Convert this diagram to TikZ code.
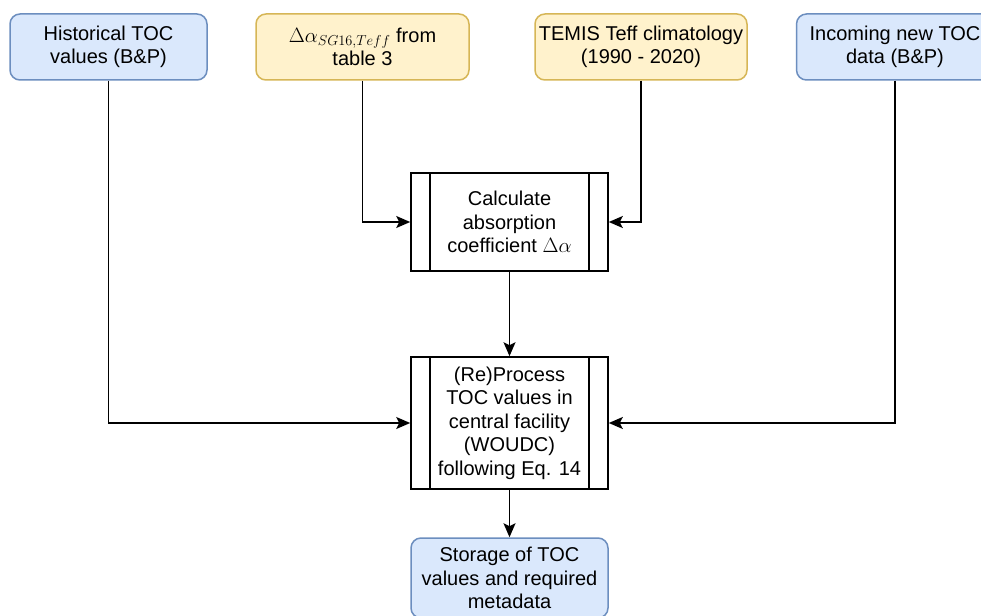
\documentclass[tikz,border=0pt]{standalone}
\usepackage{fontspec}
\setmainfont{Liberation Sans}
\usetikzlibrary{arrows.meta}

\definecolor{bluefill}{HTML}{DAE8FC}
\definecolor{blueline}{HTML}{6C8EBF}
\definecolor{yellowfill}{HTML}{FFF2CC}
\definecolor{yellowline}{HTML}{D6B656}

\tikzset{
    databox/.style={draw=blueline, fill=bluefill, rounded corners=10pt, line width=1.5pt,
        minimum width=197pt, minimum height=66pt, align=center, inner sep=0pt},
    inputbox/.style={draw=yellowline, fill=yellowfill, rounded corners=10pt, line width=1.5pt,
        minimum width=213pt, minimum height=66pt, align=center, inner sep=0pt},
    procbox/.style={draw, fill=white, line width=1.6pt, minimum width=197pt,
        align=center, inner sep=0pt},
    flow/.style={-{Stealth[length=14pt,width=12pt,inset=3pt]}, line width=1.6pt}
}

\begin{document}
\begin{tikzpicture}[x=1pt, y=-1pt, font=\fontsize{20}{23.5}\selectfont]
        % Page frame
        \clip (0,0) rectangle (981,615);
        \fill[white] (0,0) rectangle (981,615);

        % Inputs at the top
        \node[databox] (hist) at (108.5,47) {Historical TOC\\values (B\&P)};
        \node[inputbox] (delta) at (362.5,47) {$\Delta\alpha_{SG16,Teff}$ from\\table 3};
        \node[inputbox, minimum width=212pt] (temis) at (641,47) {TEMIS Teff climatology\\(1990 - 2020)};
        \node[databox] (incoming) at (895,47) {Incoming new TOC\\data (B\&P)};

        % Processing steps
        \node[procbox, minimum height=98pt] (calc) at (509.5,222) {Calculate\\absorption\\coefficient $\Delta\alpha$};
        \node[procbox, minimum height=132pt] (proc) at (509.5,423) {(Re)Process\\TOC values in\\central facility\\(WOUDC)\\following Eq. 14};

        % Side bars of the process boxes
        \foreach \p in {calc, proc} {
            \draw[line width=1.6pt] ([xshift=20pt]\p.north west) -- ([xshift=20pt]\p.south west);
            \draw[line width=1.6pt] ([xshift=-20pt]\p.north east) -- ([xshift=-20pt]\p.south east);
        }

        % Output
        \node[databox, minimum height=80pt] (store) at (509.5,578) {Storage of TOC\\values and required\\metadata};

        % Connectors
        \draw[flow] (hist.south) |- (proc.west);
        \draw[flow] (delta.south) |- (calc.west);
        \draw[flow] (temis.south) |- (calc.east);
        \draw[flow] (incoming.south) |- (proc.east);
        \draw[flow] (calc) -- (proc);
        \draw[flow] (proc) -- (store);
\end{tikzpicture}
\end{document}
